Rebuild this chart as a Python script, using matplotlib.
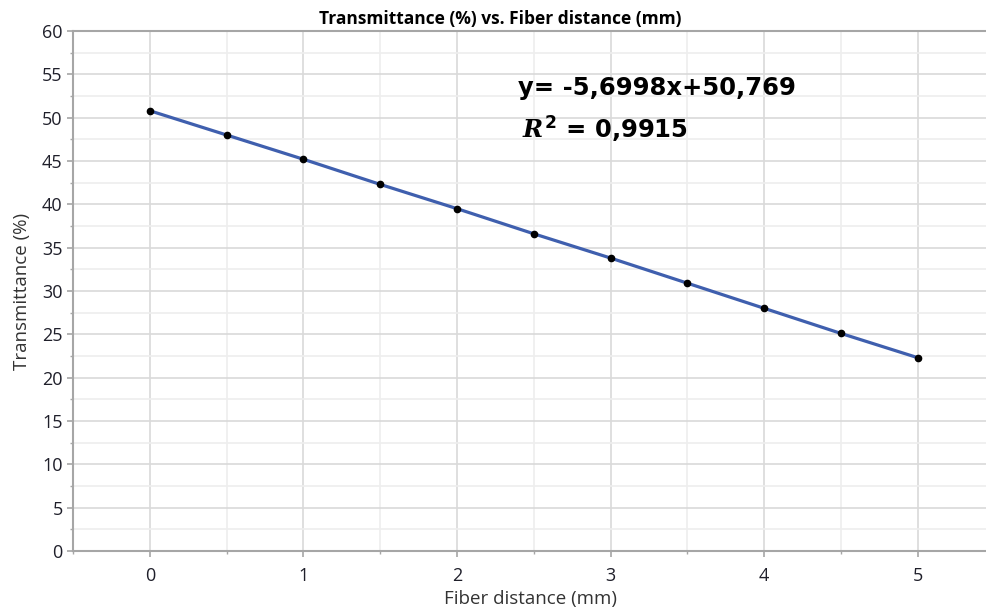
import numpy as np
import matplotlib.pyplot as plt
from matplotlib.ticker import MultipleLocator

distance = [0, 0.5, 1, 1.5, 2, 2.5, 3, 3.5, 4, 4.5, 5]
transmittance = [50.8, 48.0, 45.2, 42.3, 39.5, 36.6, 33.8, 30.9, 28.0, 25.1, 22.3]

fit_text = "y= -5,6998x+50,769"
r2_text = r"$R^{2}$ = 0,9915"

plt.rcParams['font.family'] = ['Open Sans', 'DejaVu Sans']
plt.rcParams['mathtext.fontset'] = 'custom'
plt.rcParams['mathtext.it'] = 'DejaVu Serif:italic:bold'
plt.rcParams['mathtext.rm'] = 'DejaVu Sans:bold'

fig = plt.figure(figsize=(9.87, 6.16), dpi=100)
ax = fig.add_axes([73 / 987, 1 - 551 / 616, 1 - 73 / 987, (551 - 31) / 616])

ax.plot(distance, transmittance, color='#3f5fae', lw=2.3, zorder=3)
ax.plot(distance, transmittance, 'o', color='black', ms=4.5, zorder=4)

ax.set_xlim(-0.5, 5.45)
ax.set_ylim(0, 60)
ax.xaxis.set_major_locator(MultipleLocator(1))
ax.xaxis.set_minor_locator(MultipleLocator(0.5))
ax.yaxis.set_major_locator(MultipleLocator(5))
ax.yaxis.set_minor_locator(MultipleLocator(2.5))

ax.grid(which='major', color='#d9d9d9', lw=1.2)
ax.grid(which='minor', color='#eeeeee', lw=1.2)
ax.set_axisbelow(True)

for s in ['left', 'bottom', 'top']:
    ax.spines[s].set_color('#a6a6a6')
    ax.spines[s].set_linewidth(1.5)
ax.spines['right'].set_visible(False)

ax.tick_params(which='major', length=4.5, width=1.2, color='#a6a6a6',
               labelsize=13, labelcolor='#1f1f2a')
ax.tick_params(which='minor', length=2.5, width=1.0, color='#a6a6a6')
ax.tick_params(axis='y', which='major', pad=3)
ax.tick_params(axis='x', which='major', pad=7)

ax.set_xlabel('Fiber distance (mm)', fontsize=13.5, color='#333333', va='center')
ax.set_ylabel('Transmittance (%)', fontsize=13.5, color='#333333', va='center')
ax.xaxis.set_label_coords(0.5, (551 - 599) / 520)
ax.yaxis.set_label_coords((22 - 73) / 914, 0.5)

fig.text(500 / 987, 1 - 19 / 616, 'Transmittance (%) vs. Fiber distance (mm)',
         ha='center', va='center', fontsize=12.5, fontweight='bold')

ax.text(2.4, 52.6, fit_text, fontsize=17.5, fontweight='bold', va='baseline',
        family=['DejaVu Sans'])
ax.text(2.42, 47.65, r2_text, fontsize=17.5, fontweight='bold', va='baseline',
        family=['DejaVu Sans'])

fig.savefig('out.png', dpi=100)
